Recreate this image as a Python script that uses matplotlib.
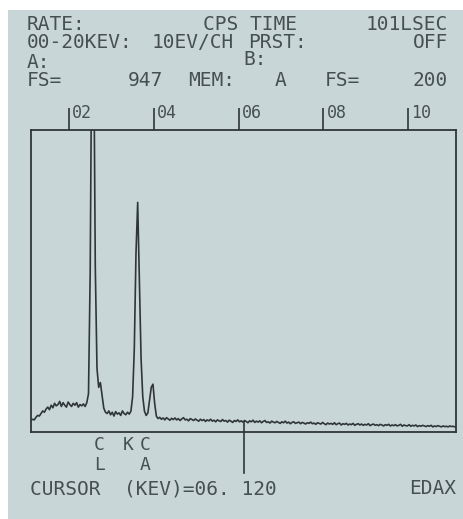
import matplotlib
matplotlib.use("Agg")
import matplotlib.pyplot as plt
import matplotlib.transforms as mtransforms
from matplotlib.patches import Rectangle
import numpy as np

# ---------------- data ----------------
CH_START_KEV = 1.10      # energy of first displayed point
CH_STEP_KEV = 0.04       # energy step between displayed points
FULL_SCALE = 947         # FS= value (top of display)

counts = [
    # 1.10 - 2.42 keV : low-energy rise and plateau
    36, 40, 38, 46, 52, 50, 58, 66, 62, 72,
    78, 70, 84, 76, 90, 82, 86, 96, 80, 92,
    84, 78, 94, 86, 80, 90, 84, 92, 78, 86,
    82, 88, 80, 92,
    # Cl K-alpha / K-beta
    120, 500, 1300, 1300, 520, 200, 140, 155, 115, 75,
    # valley
    62, 58, 66, 54, 62, 50, 64, 56, 60, 52, 66, 58, 54, 62, 56,
    # Ca K-alpha / K-beta
    65, 110, 260, 560, 720, 480, 230, 110, 65, 52, 60, 100, 140, 150, 90, 50,
    # background tail
    42, 46, 40, 44, 38, 45, 41, 37, 43, 39,
    44, 38, 42, 36, 41, 45, 38, 40, 35, 42,
    39, 36, 41, 37, 34, 40, 36, 39, 33, 38,
    35, 40, 34, 37, 32, 38, 35, 33, 39, 34,
    36, 31, 37, 34, 30, 36, 33, 38, 32, 35,
    31, 36, 33, 29, 35, 32, 37, 30, 34, 31,
    35, 29, 33, 36, 30, 32, 28, 34, 31, 29,
    33, 30, 27, 32, 29, 34, 28, 31, 26, 30,
    32, 27, 29, 31, 26, 30, 28, 25, 29, 27,
    31, 26, 28, 24, 29, 27, 25, 30, 26, 23,
    28, 25, 27, 24, 29, 23, 26, 28, 22, 26,
    24, 27, 22, 25, 23, 27, 21, 24, 26, 22,
    25, 21, 24, 22, 26, 20, 23, 25, 21, 23,
    20, 24, 22, 19, 23, 21, 24, 19, 22, 20,
    23, 19, 21, 24, 18, 22, 20, 19, 23, 18,
    21, 19, 22, 17, 20, 18, 21, 19, 17, 20,
    18, 21, 16, 19, 17, 20, 18, 16, 19, 17,
    18, 16, 19, 17, 18, 16,
]

tick_kev = [2, 4, 6, 8, 10]
tick_labels = ["02", "04", "06", "08", "10"]

element_labels = ["CL", "K", "CA"]
element_kev = [2.71, 3.39, 3.79]

cursor_kev = 6.12

# ---------------- style ----------------
BG = "#c9d6d8"
INK = "#465050"
LINE = "#2f3638"
FONT = "DejaVu Sans Mono"

W, H = 463, 519
fig = plt.figure(figsize=(W / 100, H / 100), dpi=100)
fig.patch.set_facecolor("white")
fig.add_artist(Rectangle((8 / W, 0), 1 - 8 / W, 1 - 10 / H,
                         transform=fig.transFigure, facecolor=BG,
                         edgecolor="none", zorder=0))

ax = fig.add_axes([31 / W, 1 - 432 / H, 425 / W, 302 / H])
ax.set_facecolor("none")

energy = CH_START_KEV + CH_STEP_KEV * np.arange(len(counts))
ax.plot(energy, counts, color=LINE, lw=1.2)

ax.set_xlim(1.104, 11.127)
ax.set_ylim(0, FULL_SCALE)
ax.set_yticks([])
ax.set_xticks(tick_kev)
ax.tick_params(axis="x", top=True, bottom=False, labeltop=False,
               labelbottom=False, direction="out", length=22 * 0.72,
               width=1.2, color=LINE)
for s in ax.spines.values():
    s.set_color(LINE)
    s.set_linewidth(1.3)

blend = mtransforms.blended_transform_factory(ax.transData, ax.transAxes)
for e, lab in zip(tick_kev, tick_labels):
    ax.text(e + 0.07, 1.0 + 17 / 302, lab, transform=blend, ha="left",
            va="center", fontsize=12, family=FONT, color=INK)

# cursor
ax.plot([cursor_kev, cursor_kev], [-41 / 302, 10 / 302], transform=blend,
        color=LINE, lw=1.2, clip_on=False)

# element labels (letters stacked vertically)
row_offsets = [-13 / 302, -33 / 302]
for e, lab in zip(element_kev, element_labels):
    for ch, dy in zip(lab, row_offsets):
        ax.text(e, dy, ch, transform=blend, ha="center", va="center",
                fontsize=13, family=FONT, color=INK)

# header / footer texts (pixel positions)
def ftext(x, y, s, ha="left"):
    fig.text(x / W, 1 - y / H, s, ha=ha, va="center", fontsize=14,
             family=FONT, color=INK)

ftext(27, 24, "RATE:")
ftext(203, 24, "CPS TIME")
ftext(448, 24, "101LSEC", ha="right")
ftext(27, 43, "00-20KEV:")
ftext(152, 43, "10EV/CH")
ftext(248, 43, "PRST:")
ftext(448, 43, "OFF", ha="right")
ftext(27, 62, "A:")
ftext(243, 60, "B:")
ftext(27, 81, "FS=")
ftext(128, 81, "947")
ftext(188, 81, "MEM:")
ftext(275, 81, "A")
ftext(325, 81, "FS=")
ftext(448, 81, "200", ha="right")
ftext(30, 489, "CURSOR  (KEV)=06. 120")
ftext(456, 489, "EDAX", ha="right")

fig.savefig("out.png", dpi=100, facecolor=fig.get_facecolor())
